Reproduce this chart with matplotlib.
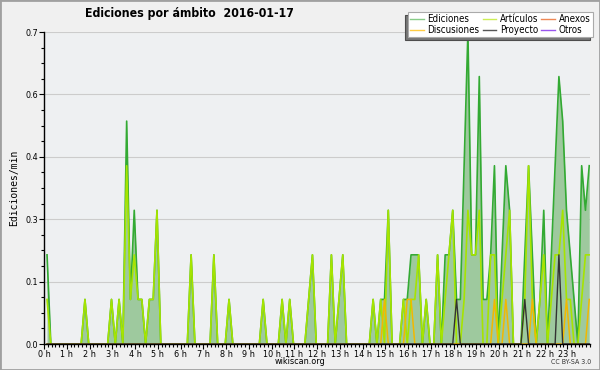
import numpy as np
import matplotlib
matplotlib.use('Agg')
import matplotlib.pyplot as plt
from matplotlib.lines import Line2D
from matplotlib.patches import Rectangle

plt.rcParams['font.family'] = ['DejaVu Sans']
plt.rcParams['font.stretch'] = 'condensed'

# Edits per minute, one value per 10-minute slot (144 slots in the day)
ediciones = [
    0.2, 0, 0, 0, 0, 0, 0, 0, 0, 0, 0.1, 0,
    0, 0, 0, 0, 0, 0.1, 0, 0.1, 0, 0.5, 0.1, 0.3,
    0.1, 0.1, 0, 0.1, 0.1, 0.3, 0, 0, 0, 0, 0, 0,
    0, 0, 0.2, 0, 0, 0, 0, 0, 0.2, 0, 0, 0,
    0.1, 0, 0, 0, 0, 0, 0, 0, 0, 0.1, 0, 0,
    0, 0, 0.1, 0, 0.1, 0, 0, 0, 0, 0.1, 0.2, 0,
    0, 0, 0, 0.2, 0, 0.1, 0.2, 0, 0, 0, 0, 0,
    0, 0, 0.1, 0, 0.1, 0.1, 0.3, 0, 0, 0, 0.1, 0.1,
    0.2, 0.2, 0.2, 0, 0.1, 0, 0, 0.2, 0, 0.2, 0.2, 0.3,
    0.1, 0.1, 0.4, 0.7, 0.2, 0.2, 0.6, 0.1, 0.1, 0.2, 0.4, 0,
    0.2, 0.4, 0.3, 0, 0, 0, 0.2, 0.4, 0.2, 0, 0.1, 0.3,
    0, 0.2, 0.4, 0.6, 0.5, 0.3, 0.2, 0.1, 0, 0.4, 0.3, 0.4,
]
articulos = [
    0.1, 0, 0, 0, 0, 0, 0, 0, 0, 0, 0.1, 0,
    0, 0, 0, 0, 0, 0.1, 0, 0.1, 0, 0.4, 0.1, 0.2,
    0.1, 0.1, 0, 0.1, 0.1, 0.3, 0, 0, 0, 0, 0, 0,
    0, 0, 0.2, 0, 0, 0, 0, 0, 0.2, 0, 0, 0,
    0.1, 0, 0, 0, 0, 0, 0, 0, 0, 0.1, 0, 0,
    0, 0, 0.1, 0, 0.1, 0, 0, 0, 0, 0.1, 0.2, 0,
    0, 0, 0, 0.2, 0, 0.1, 0.2, 0, 0, 0, 0, 0,
    0, 0, 0.1, 0, 0.1, 0, 0.3, 0, 0, 0, 0.1, 0,
    0.1, 0.1, 0.2, 0, 0.1, 0, 0, 0.2, 0, 0.1, 0.2, 0.3,
    0, 0, 0.1, 0.3, 0.2, 0.2, 0.3, 0, 0, 0.2, 0.2, 0,
    0.1, 0.2, 0.3, 0, 0, 0, 0.1, 0.4, 0.1, 0, 0.1, 0.2,
    0, 0.1, 0.2, 0.2, 0.3, 0.1, 0.1, 0, 0, 0.1, 0.2, 0.2,
]
discusiones = [0.0] * 144
for k in (89, 95, 96, 118, 121, 128, 137, 143):
    discusiones[k] = 0.1
proyecto = [0.0] * 144
proyecto[108] = 0.1
proyecto[126] = 0.1
proyecto[135] = 0.2
anexos = [0.0] * 144
otros = [0.0] * 144

horas = (np.arange(144) + 0.8) / 6
hour_labels = [f"{h} h" for h in range(24)]

fig = plt.figure(figsize=(6, 3.7), dpi=100, facecolor='#f0f0f0')
ax = fig.add_axes([44 / 600, 26 / 370, 546 / 600, 312 / 370])
ax.set_facecolor('#eef0f2')

# filled total + namespace lines
ax.fill_between(horas, ediciones, 0, color='#9ec99e', lw=0, zorder=2)
ax.plot(horas, ediciones, color='#33aa33', lw=1.2, zorder=3)
ax.plot(horas, articulos, color='#a6e400', lw=1.2, zorder=4)
ax.plot(horas, anexos, color='#f07040', lw=1, zorder=4)
ax.plot(horas, discusiones, color='#f2b800', lw=1.1, zorder=5)
ax.plot(horas, proyecto, color='#333333', lw=1, zorder=6)
ax.plot(horas, otros, color='#9040e0', lw=1, zorder=4)

ax.set_xlim(0, 24)
ax.set_ylim(0, 0.7)
yt = np.arange(6) * 0.14
ax.set_yticks(yt)
ax.set_yticklabels([f"{v:.1f}" for v in yt])
ax.set_yticks(np.arange(21) * 0.035, minor=True)
ax.set_xticks(np.arange(24))
ax.set_xticklabels(hour_labels)
ax.set_xticks(np.arange(145) / 6, minor=True)
ax.tick_params(axis='both', which='major', labelsize=6.5, length=3.5, width=0.8, pad=0.5, colors='black')
ax.tick_params(axis='both', which='minor', length=2.5, width=0.8)
ax.grid(axis='y', which='major', color='#cccccc', lw=0.8, zorder=1)
ax.set_axisbelow(True)
for s in ('top', 'right'):
    ax.spines[s].set_visible(False)
for s in ('left', 'bottom'):
    ax.spines[s].set_linewidth(1)
    ax.spines[s].set_zorder(10)

ax.set_ylabel('Ediciones/min', family='DejaVu Sans Mono', fontsize=7, labelpad=5)

fig.text(85 / 600, 1 - 14 / 370, 'Ediciones por ámbito  2016-01-17', fontsize=8.8,
         fontweight='bold', ha='left', va='center')
fig.text(300 / 600, 1 - 362 / 370, 'wikiscan.org', fontsize=6.5, ha='center', va='center')
fig.text(591 / 600, 1 - 362 / 370, 'CC BY-SA 3.0', fontsize=5, ha='right', va='center', color='#333333')

handles = [
    Line2D([], [], color='#88cc88', lw=1),
    Line2D([], [], color='#ffcc44', lw=1),
    Line2D([], [], color='#ccee55', lw=1),
    Line2D([], [], color='#555555', lw=1),
    Line2D([], [], color='#ee8855', lw=1),
    Line2D([], [], color='#9955ee', lw=1),
]
labels = ['Ediciones', 'Discusiones', 'Artículos', 'Proyecto', 'Anexos', 'Otros']
leg = ax.legend(handles, labels, ncol=3, loc='upper right',
                bbox_to_anchor=(593 / 600, 1 - 12 / 370), bbox_transform=fig.transFigure,
                fontsize=7, frameon=True, fancybox=False, borderaxespad=0,
                handlelength=1.4, handletextpad=0.4, columnspacing=0.3,
                labelspacing=0.05, borderpad=0.25,
                shadow={'ox': -2, 'oy': -2, 'facecolor': '#777777', 'alpha': 1})
leg.get_frame().set_edgecolor('#aaaaaa')
leg.get_frame().set_linewidth(0.8)
leg.set_zorder(20)

fig.patches.append(Rectangle((0, 0), 1, 1, transform=fig.transFigure, fill=False,
                             edgecolor='#a0a0a0', lw=2, zorder=0))

fig.savefig('out.png', dpi=100, facecolor=fig.get_facecolor())
